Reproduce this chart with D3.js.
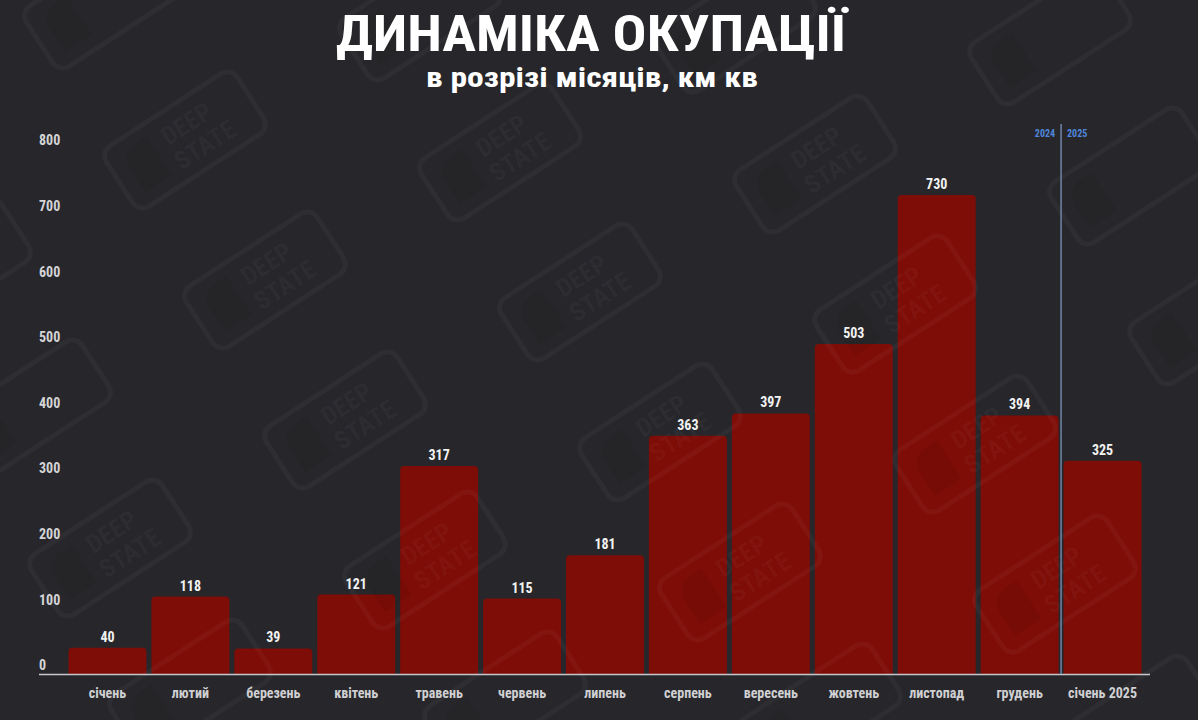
<!DOCTYPE html>
<html>
<head>
<meta charset="utf-8">
<script src="https://cdn.jsdelivr.net/npm/d3@7/dist/d3.min.js"></script>
<style>
  html, body { margin: 0; padding: 0; background: #27272b; }
  svg { display: block; }
  .cond { font-family: "Liberation Sans Narrow", "Roboto Condensed", "DejaVu Sans Condensed", "Liberation Sans", sans-serif; }
</style>
</head>
<body>
<svg id="chart" width="1198" height="720"></svg>
<script>
// ---- data ----
const categories = ["січень", "лютий", "березень", "квітень", "травень", "червень", "липень",
                    "серпень", "вересень", "жовтень", "листопад", "грудень", "січень 2025"];
const values = [40, 118, 39, 121, 317, 115, 181, 363, 397, 503, 730, 394, 325];
const yTicks = [0, 100, 200, 300, 400, 500, 600, 700, 800];
const titleText = "ДИНАМІКА ОКУПАЦІЇ";
const subtitleText = "в розрізі місяців, км кв";
const yearLabels = ["2024", "2025"];

const W = 1198, H = 720;
const svg = d3.select("#chart");

svg.append("rect").attr("width", W).attr("height", H).attr("fill", "#27272b");

// ---- scales ----
const x = d3.scaleBand().domain(categories).range([66, 1144]).paddingInner(0.06).paddingOuter(0.03);
const y = d3.scaleLinear().domain([0, 800]).range([674, 149]);

// ---- bars ----
const r = 4;
function barPath(x0, y0, w, h) {
  const rr = Math.min(r, h, w / 2);
  return `M${x0},${y0 + h} L${x0},${y0 + rr} Q${x0},${y0} ${x0 + rr},${y0} ` +
         `L${x0 + w - rr},${y0} Q${x0 + w},${y0} ${x0 + w},${y0 + rr} L${x0 + w},${y0 + h} Z`;
}
svg.append("g").selectAll("path").data(categories).join("path")
  .attr("d", (c, i) => barPath(x(c), y(values[i]), x.bandwidth(), y(0) - y(values[i])))
  .attr("fill", "#7e0d08");

// ---- watermark pattern (decorative, translucent overlay) ----
const wm = svg.append("g");
for (let j = -1; j <= 4; j++) {
  for (let i = -2; i <= 4; i++) {
    const cx = 185 + i * 315 + j * 80;
    const cy = 140 + i * 12 + j * 140;
    if (cx < -120 || cx > W + 120 || cy < -80 || cy > H + 80) continue;
    const g = wm.append("g").attr("transform", `translate(${cx},${cy}) rotate(-33)`);
    g.append("rect").attr("x", -78).attr("y", -36).attr("width", 156).attr("height", 72)
      .attr("rx", 12).attr("fill", "none").attr("stroke", "#ffffff").attr("stroke-opacity", 0.035)
      .attr("stroke-width", 5);
    g.append("path").attr("d", "M-62,22 L-62,-4 Q-62,-22 -44,-24 L-30,-24 L-30,22 Z")
      .attr("fill", "#000000").attr("fill-opacity", 0.05);
    const inside = cx > 95 && cx < W - 95 && cy > 95 && cy < H - 95;
    if (inside) {
      g.append("text").attr("class", "cond").attr("x", 10).attr("y", -4)
        .attr("text-anchor", "middle").attr("font-size", 26).attr("font-weight", "bold")
        .attr("fill", "#ffffff").attr("fill-opacity", 0.035).text("DEEP");
      g.append("text").attr("class", "cond").attr("x", 14).attr("y", 24)
        .attr("text-anchor", "middle").attr("font-size", 26).attr("font-weight", "bold")
        .attr("fill", "#ffffff").attr("fill-opacity", 0.035).text("STATE");
    }
  }
}

// ---- title ----
svg.append("text").attr("class", "cond")
  .attr("x", 591).attr("y", 51).attr("text-anchor", "middle")
  .attr("font-size", 50).attr("font-weight", "bold").attr("fill", "#ffffff")
  .attr("textLength", 510).attr("lengthAdjust", "spacingAndGlyphs")
  .text(titleText);
svg.append("text").attr("class", "cond")
  .attr("x", 592).attr("y", 87).attr("text-anchor", "middle")
  .attr("font-size", 27).attr("font-weight", "bold").attr("fill", "#ffffff")
  .attr("textLength", 332).attr("lengthAdjust", "spacingAndGlyphs")
  .text(subtitleText);

// ---- y axis labels ----
const yAxis = d3.axisLeft(y).tickValues(yTicks).tickSize(0).tickFormat(d3.format("d"));
const yg = svg.append("g").attr("transform", "translate(39,0)").call(yAxis);
yg.select(".domain").remove();
yg.selectAll("text").attr("class", "cond")
  .attr("x", 0).attr("dy", "-0.3em").attr("text-anchor", "start")
  .attr("font-size", 14).attr("font-weight", "bold").attr("fill", "#d4d4d6");

// ---- value labels ----
svg.append("g").selectAll("text").data(categories).join("text")
  .attr("class", "cond")
  .attr("x", c => x(c) + x.bandwidth() / 2)
  .attr("y", (c, i) => y(values[i]) - 6)
  .attr("text-anchor", "middle").attr("font-size", 14).attr("font-weight", "bold")
  .attr("fill", "#f2f2f2")
  .text((c, i) => values[i]);

// ---- x axis ----
const xAxis = d3.axisBottom(x).tickSize(0).tickPadding(14);
const xg = svg.append("g").attr("transform", `translate(0,${y(0)})`).call(xAxis);
xg.select(".domain").remove();
xg.selectAll("text").attr("class", "cond")
  .attr("font-size", 14).attr("font-weight", "bold").attr("fill", "#d0d0d2");
svg.append("line").attr("x1", 39).attr("x2", 1150).attr("y1", y(0) + 0.5).attr("y2", y(0) + 0.5)
  .attr("stroke", "#c8c8cc").attr("stroke-width", 1.5);

// ---- year divider ----
const lastCat = categories[categories.length - 1];
const divX = x(lastCat) - (x.step() - x.bandwidth()) / 2;
svg.append("line").attr("x1", divX).attr("x2", divX).attr("y1", 124).attr("y2", y(0))
  .attr("stroke", "#6f84a6").attr("stroke-width", 1.5);
svg.append("text").attr("class", "cond").attr("x", divX - 6).attr("y", 137)
  .attr("text-anchor", "end").attr("font-size", 10).attr("font-weight", "bold")
  .attr("fill", "#4f86dc").text(yearLabels[0]);
svg.append("text").attr("class", "cond").attr("x", divX + 6).attr("y", 137)
  .attr("text-anchor", "start").attr("font-size", 10).attr("font-weight", "bold")
  .attr("fill", "#4f86dc").text(yearLabels[1]);
</script>
</body>
</html>
